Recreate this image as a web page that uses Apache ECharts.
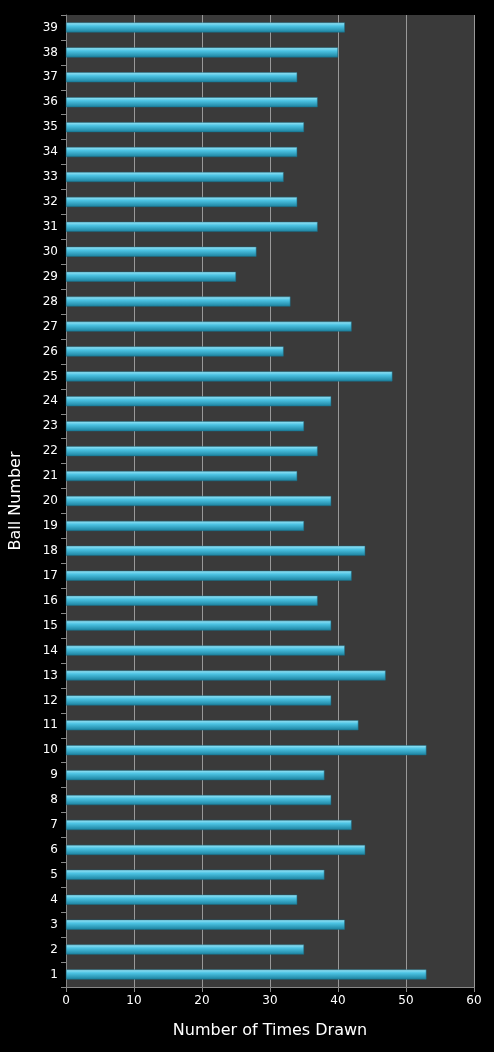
<!DOCTYPE html>
<html>
<head>
<meta charset="utf-8">
<script src="https://cdn.jsdelivr.net/npm/echarts@6/dist/echarts.min.js"></script>
<style>
  html, body { margin: 0; padding: 0; background: #000; }
  #chart { width: 494px; height: 1052px; }
</style>
</head>
<body>
<div id="chart"></div>
<script>
// ball numbers 1..39
const balls = []
for (let i = 1; i <= 39; i++) balls.push(String(i))

// times drawn, ball 1 first
const timesDrawn = [53, 35, 41, 34, 38, 44, 42, 39, 38, 53,
  43, 39, 47, 41, 39, 37, 42, 44, 35, 39,
  34, 37, 35, 39, 48, 32, 42, 33, 25, 28,
  37, 34, 32, 34, 35, 37, 34, 40, 41]

const chart = echarts.init(document.getElementById('chart'))

chart.setOption({
  backgroundColor: '#000',
  animation: false,
  grid: {
    left: 66, right: 20, top: 15, bottom: 65,
    show: true, backgroundColor: '#3a3a3a', borderWidth: 0
  },
  xAxis: {
    type: 'value', min: 0, max: 60, interval: 10,
    name: 'Number of Times Drawn', nameLocation: 'middle', nameGap: 36,
    nameTextStyle: { color: '#fff', fontSize: 16, fontFamily: 'DejaVu Sans' },
    axisLabel: { color: '#fff', fontSize: 12, fontFamily: 'DejaVu Sans' },
    axisLine: { show: true, lineStyle: { color: '#888' } },
    axisTick: { show: true, lineStyle: { color: '#888' } },
    splitLine: { lineStyle: { color: '#999', width: 1 } }
  },
  yAxis: {
    type: 'category', data: balls,
    name: 'Ball Number', nameLocation: 'middle', nameGap: 42, nameRotate: 90,
    nameTextStyle: { color: '#fff', fontSize: 16, fontFamily: 'DejaVu Sans' },
    axisLabel: { color: '#fff', fontSize: 12, fontFamily: 'DejaVu Sans' },
    axisLine: { lineStyle: { color: '#888' } },
    axisTick: { show: true, alignWithLabel: false, lineStyle: { color: '#888' } }
  },
  series: [{
    type: 'bar',
    data: timesDrawn,
    barWidth: 10,
    itemStyle: {
      color: new echarts.graphic.LinearGradient(0, 0, 0, 1, [
        { offset: 0, color: '#9fe6f7' },
        { offset: 0.35, color: '#4cc3e3' },
        { offset: 1, color: '#1a7f9c' }
      ]),
      borderColor: '#1b6f86', borderWidth: 0.5
    }
  }]
})
</script>
</body>
</html>
